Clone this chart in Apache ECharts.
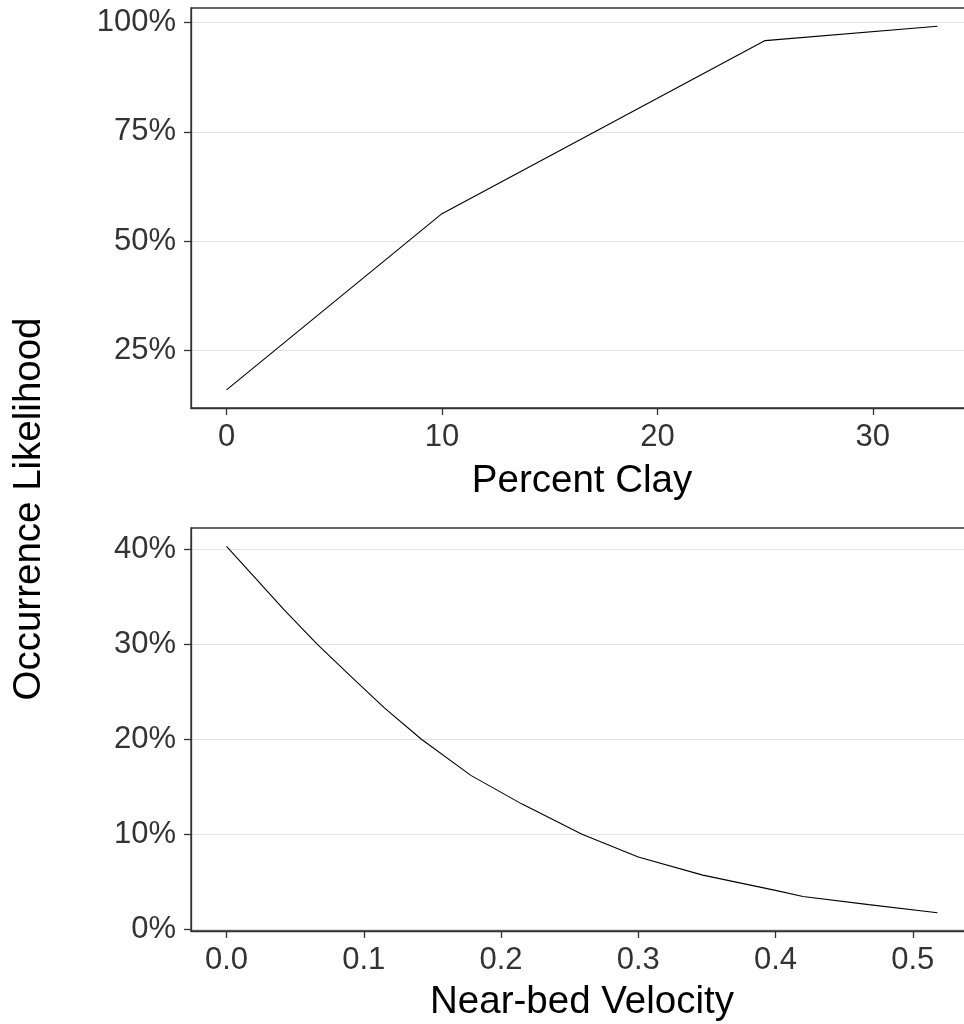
<!DOCTYPE html>
<html>
<head>
<meta charset="utf-8">
<script src="https://cdn.jsdelivr.net/npm/echarts@6/dist/echarts.min.js"></script>
<style>
  html, body { margin: 0; padding: 0; background: #fff; overflow: hidden; width: 964px; height: 1024px; }
  #chart { width: 990px; height: 1024px; }
</style>
</head>
<body>
<div id="chart"></div>
<script>
// Occurrence likelihood (%) against percent clay
const clayX = [0, 10, 25, 33];
const clayY = [16.0, 56.3, 95.9, 99.2];
const clayTicks = [0, 10, 20, 30];
const clayPctTicks = [25, 50, 75, 100];

// Occurrence likelihood (%) against near-bed velocity
const velX = [0, 0.042, 0.066, 0.09, 0.115, 0.142, 0.178, 0.215, 0.259, 0.3, 0.347, 0.4, 0.42, 0.468, 0.518];
const velY = [40.3, 33.6, 30.0, 26.7, 23.3, 20.0, 16.2, 13.2, 10.0, 7.6, 5.7, 4.1, 3.45, 2.6, 1.75];
const velTicks = [0, 0.1, 0.2, 0.3, 0.4, 0.5];
const velPctTicks = [0, 10, 20, 30, 40];

const FONT = "'Liberation Sans', Arial, sans-serif";
const DARK = '#333333';

// pad the data range by 5% on each side
function padded(arr) {
  const lo = Math.min(...arr), hi = Math.max(...arr);
  const pad = (hi - lo) * 0.05;
  return [lo - pad, hi + pad];
}

function zip(xs, ys) { return xs.map((x, i) => [x, ys[i]]); }

function xAxisFor(gridIndex, values, ticks, name, nameGap, fmt) {
  const [min, max] = padded(values);
  return {
    gridIndex, type: 'value', min, max, z: 5,
    axisLine: { show: true, onZero: false, lineStyle: { color: DARK, width: 1.3 } },
    axisTick: { show: true, length: 7, customValues: ticks, lineStyle: { color: DARK, width: 1.3 } },
    axisLabel: { customValues: ticks, formatter: fmt, fontSize: 31, color: DARK, margin: 14, fontFamily: FONT },
    splitLine: { show: false },
    name, nameLocation: 'middle', nameGap,
    nameTextStyle: { fontSize: 38.5, color: '#000', fontFamily: FONT }
  };
}

function yAxisFor(gridIndex, values, ticks) {
  const [min, max] = padded(values);
  return {
    gridIndex, type: 'value', min, max, z: 5,
    axisLine: { show: true, onZero: false, lineStyle: { color: DARK, width: 1.3 } },
    axisTick: { show: true, length: 7, customValues: ticks, lineStyle: { color: DARK, width: 1.3 } },
    axisLabel: { customValues: ticks, formatter: v => v + '%', fontSize: 31, color: DARK, margin: 15, fontFamily: FONT },
    splitLine: { show: false }
  };
}

// horizontal reference lines at the percentage ticks
function gridLines(idx, xs, ys, ticks) {
  return {
    type: 'line', xAxisIndex: idx, yAxisIndex: idx, z: 1,
    data: zip(xs, ys), showSymbol: false, silent: true,
    lineStyle: { opacity: 0 },
    markLine: {
      silent: true, z: 1, symbol: ['none', 'none'], label: { show: false },
      lineStyle: { color: '#e3e3e3', width: 1.2, type: 'solid' },
      emphasis: { disabled: true },
      data: ticks.map(v => ({ yAxis: v }))
    }
  };
}

function curve(idx, xs, ys) {
  return {
    type: 'line', xAxisIndex: idx, yAxisIndex: idx, z: 3,
    data: zip(xs, ys), showSymbol: false, silent: true,
    lineStyle: { color: '#000', width: 1.1 }
  };
}

const chart = echarts.init(document.getElementById('chart'), null, { renderer: 'canvas' });
chart.setOption({
  animation: false,
  backgroundColor: '#fff',
  grid: [
    { left: 191, top: 8, width: 782, height: 400, show: true, borderColor: DARK, borderWidth: 1.3,
      containLabel: false, outerBoundsMode: 'none' },
    { left: 191, top: 528, width: 782, height: 403, show: true, borderColor: DARK, borderWidth: 1.3,
      containLabel: false, outerBoundsMode: 'none' }
  ],
  xAxis: [
    xAxisFor(0, clayX, clayTicks, 'Percent Clay', 54, v => String(v)),
    xAxisFor(1, velX, velTicks, 'Near-bed Velocity', 52, v => v.toFixed(1))
  ],
  yAxis: [
    yAxisFor(0, clayY, clayPctTicks),
    yAxisFor(1, velY, velPctTicks)
  ],
  series: [
    gridLines(0, clayX, clayY, clayPctTicks),
    curve(0, clayX, clayY),
    gridLines(1, velX, velY, velPctTicks),
    curve(1, velX, velY)
  ],
  graphic: [{
    type: 'text', x: 29, y: 509, rotation: Math.PI / 2,
    style: {
      text: 'Occurrence Likelihood', fontSize: 38.5, fontFamily: FONT, fill: '#000',
      align: 'center', verticalAlign: 'middle', textAlign: 'center', textVerticalAlign: 'middle'
    }
  }]
});
</script>
</body>
</html>
